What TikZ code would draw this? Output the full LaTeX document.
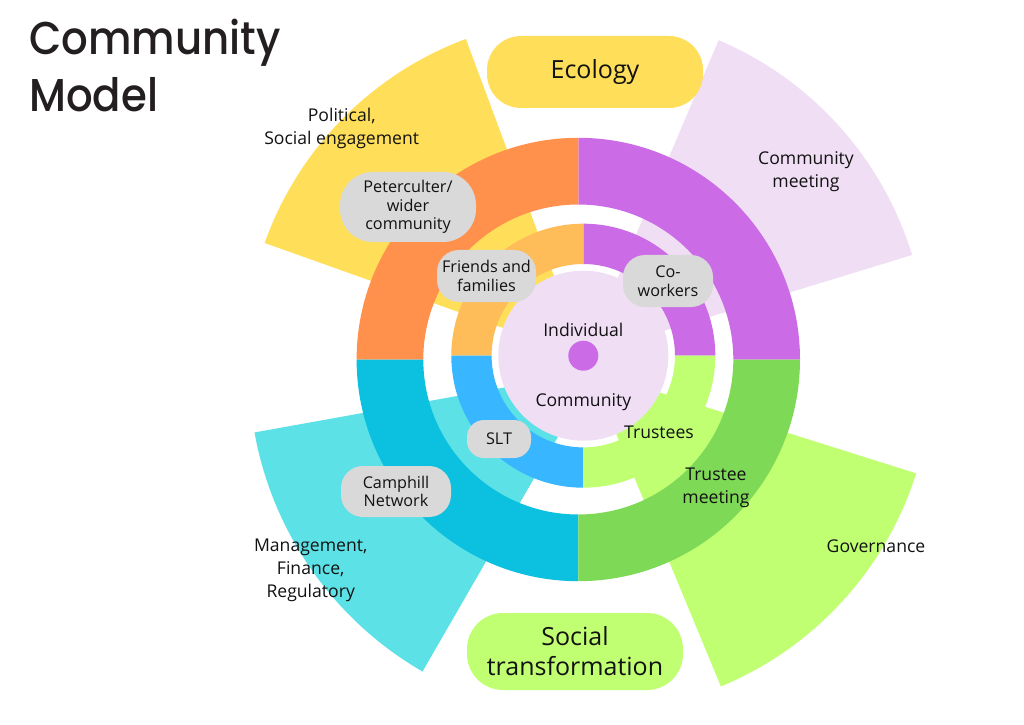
\documentclass[tikz,border=0pt]{standalone}
\usepackage{fontspec}
\setmainfont{Open Sans}
\newfontfamily\titlefont{Poppins Medium}[FakeStretch=0.91]
\usetikzlibrary{calc}
\definecolor{secyellow}{HTML}{FFDE59}
\definecolor{seclav}{HTML}{F0DEF5}
\definecolor{seccyan}{HTML}{5CE1E6}
\definecolor{seclime}{HTML}{C1FF72}
\definecolor{ringorange}{HTML}{FF914D}
\definecolor{ringpurple}{HTML}{CB6CE6}
\definecolor{ringblue}{HTML}{0CC0DF}
\definecolor{ringgreen}{HTML}{7ED957}
\definecolor{midorange}{HTML}{FFBD59}
\definecolor{midblue}{HTML}{38B6FF}
\definecolor{pillgrey}{HTML}{D9D9D9}
\definecolor{titlecol}{HTML}{231F20}
\definecolor{textcol}{HTML}{121212}
\newcommand\ringpart[6]{%
  \fill[#6] ($(#1)+(#2:#5)$) arc[start angle=#2,end angle=#3,radius=#5]
    -- ($(#1)+(#3:#4)$) arc[start angle=#3,end angle=#2,radius=#4] -- cycle;}
\begin{document}
\begin{tikzpicture}[x=1pt,y=1pt,
  freelabel/.style={font=\fontsize{17.6}{23}\selectfont, align=center, text=textcol, inner sep=0pt},
  pilllabel/.style={font=\fontsize{16.2}{18.7}\selectfont, align=center, text=textcol, fill=pillgrey, inner sep=0pt},
  bigpill/.style={font=\fontsize{25}{30}\selectfont, align=center, text=textcol, inner sep=0pt},
  titletext/.style={font=\titlefont\fontsize{46}{46}\selectfont, text=titlecol, inner sep=0pt, anchor=base west}]
\useasboundingbox (0,0) rectangle (1024,724);
\fill[white] (0,0) rectangle (1024,724);
% outer sectors
\coordinate (ySec) at (584,367.3);
\coordinate (lSec) at (585,369);
\coordinate (cSec) at (596,353);
\coordinate (gSec) at (590,353.5);
\fill[secyellow] (ySec) -- ++(110.4:339) arc[start angle=110.4,end angle=160.4,radius=339] -- cycle;
\fill[seclav] (lSec) -- ++(17:342) arc[start angle=17,end angle=67,radius=342] -- cycle;
\fill[seccyan] (cSec) -- ++(190.2:347) arc[start angle=190.2,end angle=240,radius=347] -- cycle;
\fill[seclime] (gSec) -- ++(-67.5:342) arc[start angle=-67.5,end angle=-17.5,radius=342] -- cycle;
% outer ring
\coordinate (oC) at (578.3,364.5);
\ringpart{oC}{0}{90}{155}{221.7}{ringpurple}
\ringpart{oC}{90}{180}{155}{221.7}{ringorange}
\ringpart{oC}{180}{270}{155}{221.7}{ringblue}
\ringpart{oC}{270}{360}{155}{221.7}{ringgreen}
% middle ring
\coordinate (mC) at (583.3,368.3);
\ringpart{mC}{0}{90}{91.7}{132}{ringpurple}
\ringpart{mC}{90}{180}{91.7}{132}{midorange}
\ringpart{mC}{180}{270}{91.7}{132}{midblue}
\ringpart{mC}{270}{360}{91.7}{132}{seclime}
% centre
\fill[seclav] (mC) circle[radius=85];
\fill[ringpurple] (mC) circle[radius=15];
% title
\node[titletext] (title1) at (29,669) {Community};
\node[titletext] (title2) at (29,612.3) {Model};
% big pills
\node[bigpill, fill=secyellow, rounded corners=34pt, minimum width=216pt, minimum height=72pt] (eco) at (595,652) {Ecology};
\node[bigpill, fill=seclime, rounded corners=36pt, minimum width=216pt, minimum height=77pt] (soc) at (575,72.5) {Social\\transformation};
% grey pills
\node[pilllabel, rounded corners=33pt, minimum width=136pt, minimum height=70pt] (pet) at (408,517) {Peterculter/\\wider\\community};
\node[pilllabel, rounded corners=22pt, minimum width=99pt, minimum height=52pt] (fri) at (486.5,448) {Friends and\\families};
\node[pilllabel, rounded corners=22pt, minimum width=90pt, minimum height=52pt] (cow) at (668,443) {Co-\\workers};
\node[pilllabel, rounded corners=17pt, minimum width=64pt, minimum height=38pt] (slt) at (499,285) {SLT};
\node[pilllabel, rounded corners=22pt, minimum width=110pt, minimum height=51pt] (cam) at (396,232.5) {Camphill\\Network};
% free labels
\node[freelabel] (pol) at (341.7,596) {Political,\\Social engagement};
\node[freelabel] (cmt) at (806,552.7) {Community\\meeting};
\node[freelabel] (man) at (310.7,154) {Management,\\Finance,\\Regulatory};
\node[freelabel] (gov) at (876,177.3) {Governance};
\node[freelabel] (trm) at (716,236.5) {Trustee\\meeting};
\node[freelabel] (tru) at (659,291.7) {Trustees};
\node[freelabel] (ind) at (583.3,394) {Individual};
\node[freelabel] (com) at (583.3,322.3) {Community};
\end{tikzpicture}
\end{document}
